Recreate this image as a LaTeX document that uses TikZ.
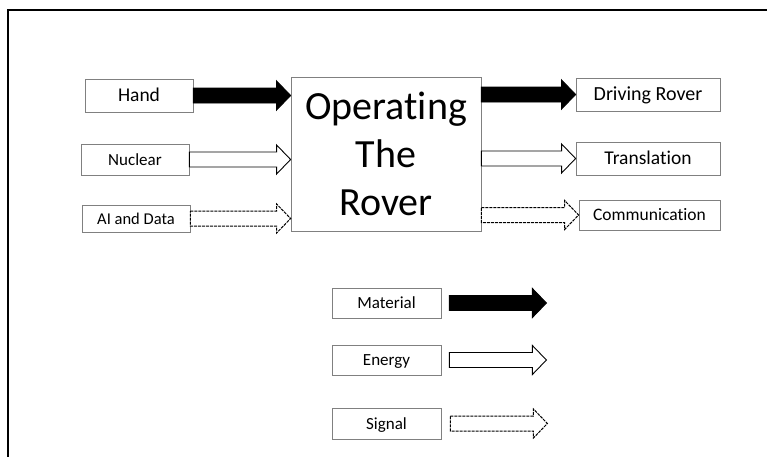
\documentclass[tikz,border=0pt]{standalone}
\usepackage{fontspec}
\setmainfont{Carlito}[RawFeature={-liga}]
\usetikzlibrary{positioning,calc}

\tikzset{
  box/.style={draw=black!50, line width=0.8pt, inner sep=0pt,
    font=\fontsize{#1}{#1}\selectfont, text height=11.6pt, text depth=0pt},
  box/.default=18,
  flow/.style={to path={let \p1=(\tikztostart), \p2=(\tikztotarget) in
    (\x1,\y1+7.5pt) -- (\x2-14pt,\y1+7.5pt) -- (\x2-14pt,\y1+14.5pt) -- (\x2,\y1)
    -- (\x2-14pt,\y1-14.5pt) -- (\x2-14pt,\y1-7.5pt) -- (\x1,\y1-7.5pt) -- cycle}},
  material/.style={flow, draw=black, fill=black, line width=0.9pt},
  energy/.style={flow, draw=black, fill=white, line width=0.9pt},
  signal/.style={flow, draw=black, fill=white, line width=1pt, dash pattern=on 3pt off 1pt}
}

\begin{document}
\begin{tikzpicture}[x=1pt,y=-1pt]
\useasboundingbox (0,0) rectangle (767,456);
% frame
\draw [black, line width=1.8pt] (8,480) -- (8,10) -- (790,10);

% function
\node [draw=black!50, line width=0.8pt, inner sep=0pt, minimum width=190pt, minimum height=154pt,
  align=center, font=\fontsize{40}{48}\selectfont] (op) at (386,154) {Operating\\The\\Rover};

% inputs
\node [box=19.5, minimum width=108pt, minimum height=33pt] (hand) at (139,95.5) {Hand};
\node [box=17, minimum width=108pt, minimum height=31pt] (nuclear) at (135,159.5) {Nuclear};
\node [box=16.5, minimum width=108pt, minimum height=27pt] (aidata) at (136,218.5) {AI and Data};

% outputs
\node [box=20, minimum width=144pt, minimum height=33pt] (drive) at (648,94.5) {Driving Rover};
\node [box=19.5, minimum width=144pt, minimum height=33pt] (transl) at (648,158.5) {Translation};
\node [box=17.5, minimum width=141pt, minimum height=30pt] (comm) at (649.5,215) {Communication};

\draw [material] (hand.east) to (op.west |- hand.east);
\draw [energy] (nuclear.east) to (op.west |- nuclear.east);
\draw [signal] (aidata.east) to (op.west |- aidata.east);
\draw [material] (op.east |- drive.west) to (drive.west);
\draw [energy] (op.east |- transl.west) to (transl.west);
\draw [signal] (op.east |- comm.west) to (comm.west);

% legend
\node [box=17, minimum width=109pt, minimum height=30pt] (material) at (386.5,303) {Material};
\node [box=17, minimum width=109pt, minimum height=30pt] (energy) at (386.5,360) {Energy};
\node [box=17, minimum width=109pt, minimum height=31pt] (signal) at (386.5,423.5) {Signal};
\coordinate [right=8pt of material.east] (mat0);
\coordinate [right=105pt of material.east] (mat1);
\coordinate [right=8pt of energy.east] (ene0);
\coordinate [right=105pt of energy.east] (ene1);
\coordinate [right=9pt of signal.east] (sig0);
\coordinate [right=106pt of signal.east] (sig1);
\draw [material] (mat0) to (mat1);
\draw [energy] (ene0) to (ene1);
\draw [signal] (sig0) to (sig1);
\end{tikzpicture}
\end{document}
